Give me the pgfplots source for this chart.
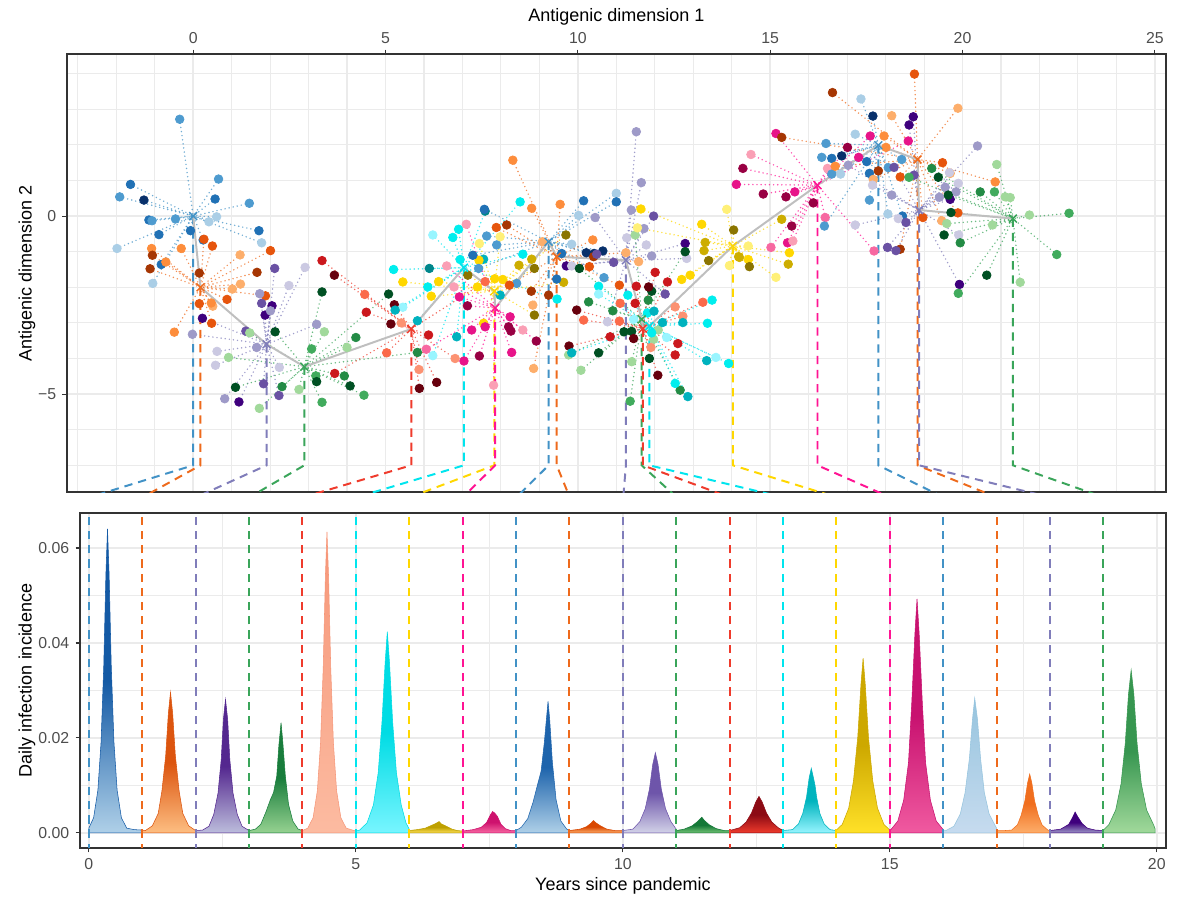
\documentclass[border=0pt]{standalone}
\usepackage{pgfplots}
\pgfplotsset{compat=1.18}
\usepackage{pgfplotstable}
\usepackage{fontspec}
\setmainfont{Liberation Sans}

\definecolor{gridc}{HTML}{EBEBEB}
\definecolor{framec}{HTML}{333333}
\definecolor{tickc}{HTML}{4D4D4D}
% one line colour per palette (cycle of 8)
\definecolor{Lb}{HTML}{4292C6}
\definecolor{Lo}{HTML}{EE6A1C}
\definecolor{Lp}{HTML}{807DBA}
\definecolor{Lg}{HTML}{3AA55A}
\definecolor{Lr}{HTML}{EF3B2C}
\definecolor{Lc}{HTML}{00E5EE}
\definecolor{Ly}{HTML}{FFD700}
\definecolor{Lk}{HTML}{FF1493}
% point colours: 8 palettes x 4 shades, light to dark
\definecolor{c0}{RGB}{170,206,230}\definecolor{c1}{RGB}{78,155,207}\definecolor{c2}{RGB}{33,113,181}\definecolor{c3}{RGB}{8,48,107}
\definecolor{c4}{RGB}{253,174,107}\definecolor{c5}{RGB}{253,141,60}\definecolor{c6}{RGB}{230,85,13}\definecolor{c7}{RGB}{166,54,3}
\definecolor{c8}{RGB}{203,201,226}\definecolor{c9}{RGB}{158,154,200}\definecolor{c10}{RGB}{106,81,163}\definecolor{c11}{RGB}{63,0,125}
\definecolor{c12}{RGB}{161,217,155}\definecolor{c13}{RGB}{65,171,93}\definecolor{c14}{RGB}{35,139,69}\definecolor{c15}{RGB}{0,80,35}
\definecolor{c16}{RGB}{252,146,114}\definecolor{c17}{RGB}{251,106,74}\definecolor{c18}{RGB}{203,24,29}\definecolor{c19}{RGB}{103,0,13}
\definecolor{c20}{RGB}{152,245,255}\definecolor{c21}{RGB}{0,238,238}\definecolor{c22}{RGB}{0,178,190}\definecolor{c23}{RGB}{0,134,139}
\definecolor{c24}{RGB}{255,240,120}\definecolor{c25}{RGB}{255,215,0}\definecolor{c26}{RGB}{205,173,0}\definecolor{c27}{RGB}{139,117,0}
\definecolor{c28}{RGB}{250,159,181}\definecolor{c29}{RGB}{247,104,161}\definecolor{c30}{RGB}{231,20,137}\definecolor{c31}{RGB}{152,0,67}

\pgfplotsset{
  ggbw/.style={
    scale only axis,
    axis line style={framec, line width=0.8pt},
    tick style={framec, line width=0.6pt},
    major tick length=2.5pt, minor tick length=0pt,
    tick align=outside,
    grid=both,
    major grid style={gridc, line width=1pt},
    minor grid style={gridc, line width=0.6pt},
    tick label style={font=\fontsize{8.8}{10}\selectfont, text=tickc},
    label style={font=\fontsize{10.8}{13}\selectfont},
    scaled ticks=false,
  },
  dotclasses/.style={scatter/classes={
    0={draw=c0,fill=c0},1={draw=c1,fill=c1},2={draw=c2,fill=c2},3={draw=c3,fill=c3},
    4={draw=c4,fill=c4},5={draw=c5,fill=c5},6={draw=c6,fill=c6},7={draw=c7,fill=c7},
    8={draw=c8,fill=c8},9={draw=c9,fill=c9},10={draw=c10,fill=c10},11={draw=c11,fill=c11},
    12={draw=c12,fill=c12},13={draw=c13,fill=c13},14={draw=c14,fill=c14},15={draw=c15,fill=c15},
    16={draw=c16,fill=c16},17={draw=c17,fill=c17},18={draw=c18,fill=c18},19={draw=c19,fill=c19},
    20={draw=c20,fill=c20},21={draw=c21,fill=c21},22={draw=c22,fill=c22},23={draw=c23,fill=c23},
    24={draw=c24,fill=c24},25={draw=c25,fill=c25},26={draw=c26,fill=c26},27={draw=c27,fill=c27},
    28={draw=c28,fill=c28},29={draw=c29,fill=c29},30={draw=c30,fill=c30},31={draw=c31,fill=c31}}},
}

% strains per antigenic cluster: x, y, colour index
\pgfplotstableread{
x y m
-0.35 2.72 1
-1.63 0.89 2
-1.91 0.54 1
-1.28 0.45 3
0.66 1.04 1
0.57 0.48 2
1.46 0.36 1
-1.15 -0.11 2
-1.07 -0.13 1
-0.46 -0.08 1
0.41 -0.16 0
0.61 -0.02 0
-0.07 -0.41 2
-0.89 -0.52 2
1.71 -0.41 2
1.78 -0.75 0
-1.98 -0.91 0
-0.83 -1.36 2
-1.05 -1.89 0
0.26 -0.67 2
}\tA
\pgfplotstableread{
x y m
0.28 -0.65 6
0.50 -0.84 6
2.01 -0.97 6
-1.08 -0.91 5
-1.06 -1.10 7
-1.12 -1.48 7
-0.71 -1.29 5
-0.31 -0.91 5
1.22 -1.09 4
1.66 -1.58 7
0.16 -1.60 7
1.23 -1.91 4
1.02 -2.05 4
0.88 -2.34 6
0.51 -2.53 4
0.47 -2.44 5
0.16 -2.46 6
0.48 -3.01 6
-0.49 -3.26 5
1.88 -2.24 6
}\tB
\pgfplotstableread{
x y m
2.12 -1.47 10
2.91 -1.44 8
2.49 -1.95 8
1.73 -2.18 9
1.78 -2.45 10
2.05 -2.52 11
1.87 -2.78 11
2.01 -2.66 9
0.24 -2.87 11
-0.02 -3.32 9
1.37 -3.23 10
1.65 -3.69 9
3.21 -3.04 9
0.62 -3.80 8
0.58 -4.19 8
2.24 -4.25 8
1.83 -4.71 10
2.23 -5.04 10
0.82 -5.13 9
1.19 -5.22 11
}\tC
\pgfplotstableread{
x y m
3.35 -2.13 15
2.13 -3.25 15
1.47 -3.28 12
3.41 -3.25 12
3.08 -3.73 13
4.23 -3.41 14
4.00 -3.69 12
0.92 -3.97 12
3.19 -4.49 13
3.21 -4.65 15
3.93 -4.49 14
4.08 -4.77 15
2.31 -4.79 14
2.75 -4.87 12
3.35 -5.23 13
4.44 -5.03 13
1.10 -4.81 15
1.72 -5.40 12
5.08 -2.19 15
5.83 -3.83 14
}\tD
\pgfplotstableread{
x y m
3.35 -1.25 18
3.67 -1.66 19
4.46 -2.20 17
4.50 -2.70 18
3.68 -4.42 18
5.23 -2.49 19
5.14 -3.03 19
5.41 -3.00 16
6.12 -3.34 18
5.03 -3.84 17
5.87 -4.31 16
6.33 -4.67 19
5.88 -4.84 19
6.81 -4.00 16
7.59 -1.84 17
}\tE
\pgfplotstableread{
x y m
5.21 -1.50 21
6.14 -1.47 23
6.10 -1.99 21
5.45 -2.56 20
5.25 -2.64 22
5.83 -2.94 22
6.85 -3.39 22
6.23 -3.92 20
6.23 -0.53 20
6.75 -0.60 21
6.90 -0.37 21
8.50 0.40 21
8.57 -1.07 21
7.98 -2.22 22
7.59 0.14 23
6.94 -1.22 21
7.55 -1.21 22
9.46 -2.33 21
}\tF
\pgfplotstableread{
x y m
5.45 -1.85 25
6.19 -2.25 25
6.38 -1.84 25
7.14 -1.66 27
7.39 -1.99 25
7.44 -0.77 24
7.98 -0.58 24
7.84 -1.76 25
8.05 -1.78 25
8.47 -1.38 26
8.80 -1.21 26
8.87 -1.47 27
8.87 -2.78 27
7.43 -1.24 25
7.55 -3.01 25
9.63 -1.86 26
9.69 -0.53 27
}\tG
\pgfplotstableread{
x y m
6.59 -1.40 28
6.78 -1.99 28
6.92 -2.27 30
7.13 -2.52 31
7.10 -0.23 28
7.24 -3.20 30
7.59 -3.11 30
7.04 -4.07 30
7.81 -4.75 28
7.44 -3.93 31
8.24 -2.83 30
8.20 -3.11 31
8.26 -3.23 31
8.28 -3.83 30
8.57 -3.20 28
8.92 -3.51 31
6.06 -3.74 29
}\tH
\pgfplotstableread{
x y m
7.57 0.19 2
7.63 -0.56 1
7.89 -0.81 1
7.27 -1.10 2
7.42 -1.47 1
8.41 -1.89 1
10.15 0.43 2
11.00 0.64 0
11.00 0.40 2
10.02 0.02 0
9.84 -0.79 0
10.22 -1.03 3
10.42 -1.05 3
10.65 -0.98 3
9.58 -1.05 2
10.68 -1.73 1
9.45 -1.77 2
}\tI
\pgfplotstableread{
x y m
9.54 0.33 5
8.31 1.57 5
8.80 0.22 5
7.88 -0.32 6
8.15 -0.25 7
8.22 -1.94 6
9.08 -0.72 4
9.24 -2.22 7
8.79 -2.11 7
8.83 -2.50 4
8.85 -4.28 4
10.39 -0.67 5
10.30 -1.42 6
10.41 -1.14 7
11.08 -1.94 6
11.25 -1.03 4
11.58 -1.28 4
}\tJ
\pgfplotstableread{
x y m
11.52 2.37 9
11.65 0.94 9
11.39 0.17 9
11.97 0.00 10
10.45 -0.04 9
11.72 -0.35 9
11.27 -0.61 8
11.78 -0.81 8
12.79 -0.77 11
12.83 -1.19 8
11.92 -1.12 9
10.93 -1.30 10
10.49 -1.07 10
9.70 -1.40 11
9.84 -1.40 8
12.27 -2.19 10
10.77 -2.97 8
}\tK
\pgfplotstableread{
x y m
11.49 -0.53 12
12.79 -1.00 15
10.04 -1.47 15
10.28 -2.41 14
10.91 -2.66 14
11.83 -2.36 14
11.92 -2.11 15
11.20 -3.25 15
11.40 -3.24 15
11.97 -3.46 12
10.54 -3.84 15
9.76 -3.90 12
10.08 -4.33 12
11.40 -4.09 12
11.36 -5.20 13
11.86 -4.00 15
12.66 -4.89 14
12.09 -3.20 12
}\tL
\pgfplotstableread{
x y m
12.01 -1.58 18
12.33 -1.85 18
11.84 -1.99 19
11.52 -1.97 18
11.49 -2.45 18
11.10 -2.45 17
9.97 -2.64 19
10.15 -2.92 17
11.08 -2.95 17
10.84 -3.39 18
11.45 -3.44 19
9.77 -3.65 19
12.53 -2.55 16
12.73 -2.81 16
12.60 -3.58 18
12.53 -3.90 18
12.08 -4.47 19
11.90 -3.69 16
13.25 -2.42 17
}\tM
\pgfplotstableread{
x y m
10.54 -1.97 21
10.54 -2.19 20
11.30 -2.22 21
11.81 -2.72 21
11.98 -2.67 22
11.45 -2.90 20
12.20 -2.99 22
11.92 -3.28 21
12.73 -2.99 22
13.49 -2.36 21
13.37 -3.01 21
12.31 -3.41 20
13.35 -4.06 22
13.59 -3.97 20
13.92 -4.14 21
12.53 -4.70 21
12.86 -5.07 22
9.84 -3.84 22
}\tN
\pgfplotstableread{
x y m
13.22 -0.23 25
13.87 0.19 24
14.05 -0.39 27
13.31 -0.74 26
13.28 -0.97 26
13.40 -1.25 27
13.94 -1.39 24
12.92 -1.66 25
12.70 -1.78 25
14.18 -1.14 26
11.64 0.20 25
11.55 -0.33 24
15.30 -0.09 26
15.50 -1.03 25
15.47 -1.35 26
14.43 -0.84 24
14.43 -1.22 25
14.20 -1.16 26
14.46 -1.42 27
15.15 -1.72 24
}\tO
\pgfplotstableread{
x y m
15.15 2.32 30
14.50 1.73 28
14.29 1.34 31
14.12 0.89 30
14.82 0.62 31
15.41 0.54 31
15.64 0.68 30
16.12 0.37 31
16.43 -0.04 29
15.56 -0.28 31
15.45 -0.75 30
15.59 -0.70 28
15.02 -0.88 29
16.49 1.34 28
17.70 -0.98 29
17.30 1.65 30
17.60 2.25 30
18.59 2.11 30
17.01 1.93 31
}\tP
\pgfplotstableread{
x y m
17.36 3.29 0
17.67 2.81 3
17.21 2.30 0
16.45 2.04 1
16.34 1.65 1
16.60 1.62 2
16.86 1.69 3
16.60 1.18 1
16.83 1.18 0
17.51 1.53 2
17.58 1.20 2
18.42 1.59 1
18.07 1.36 1
17.58 0.45 1
18.06 0.06 0
16.41 -0.28 1
18.44 0.00 2
}\tQ
\pgfplotstableread{
x y m
18.75 3.99 6
19.88 3.03 4
18.16 2.82 4
17.96 2.25 5
19.48 1.50 6
18.38 1.10 6
20.85 0.96 5
19.88 0.09 6
18.97 -0.04 6
19.46 -0.13 4
19.68 1.20 4
16.62 3.47 7
18.01 1.93 5
16.69 1.40 5
17.81 1.27 7
17.68 1.03 4
15.30 2.21 7
18.38 -0.93 7
}\tR
\pgfplotstableread{
x y m
18.72 2.79 11
18.61 2.56 11
20.39 1.97 9
18.22 1.37 10
18.74 1.15 10
19.66 1.22 8
19.89 0.92 8
19.55 0.81 9
19.40 0.53 9
19.83 0.68 9
19.68 0.47 11
18.16 0.59 9
18.33 -0.07 8
18.53 -0.18 10
19.90 -0.53 8
18.05 -0.88 10
18.27 -0.97 10
19.92 -1.92 11
17.21 -0.25 8
17.66 0.87 8
17.03 1.43 9
}\tS
\pgfplotstableread{
x y m
20.89 1.45 12
19.20 1.34 14
18.61 1.09 13
19.37 1.09 15
19.63 0.59 15
20.46 0.68 14
20.83 0.68 13
21.11 0.54 12
21.24 0.52 12
21.74 0.03 12
22.77 0.08 13
19.70 0.10 15
19.59 -0.21 12
20.78 -0.25 12
19.52 -0.53 15
19.94 -0.75 14
22.45 -1.08 13
20.63 -1.66 15
21.50 -1.86 12
19.89 -2.17 13
}\tT

% cluster centres in the order they appeared
\pgfplotstableread{
x y
0.00 0.00
0.19 -2.00
1.91 -3.60
2.89 -4.23
5.67 -3.17
7.04 -1.45
7.83 -2.11
7.85 -2.58
9.24 -0.72
9.45 -1.14
11.25 -1.24
11.66 -2.90
11.69 -3.16
11.86 -3.09
14.03 -0.84
16.23 0.87
17.81 1.99
18.83 1.59
18.87 0.17
21.31 -0.07
}\centres

\newcommand\spokes[4]{\addplot[forget plot, #4, draw opacity=0.75, line width=0.9pt, line cap=round,
  dash pattern=on 0pt off 2.3pt, quiver={u={#2-\thisrow{x}}, v={#3-\thisrow{y}}}] table {#1};}
\newcommand\drop[4]{\addplot[forget plot, #4, line width=1.1pt, dash pattern=on 4.6pt off 3.3pt]
  coordinates {(#1,#2) (#1,-7) (#3,-7.9)};}
\newcommand\pts[1]{\addplot[forget plot, scatter, only marks, mark=*, mark size=2.4pt,
  point meta=explicit symbolic, dotclasses] table[meta=m] {#1};}
\newcommand\ctr[3]{\addplot[forget plot, only marks, mark=x, mark size=3.1pt, line width=0.8pt, #3]
  coordinates {(#1,#2)};}
\newcommand\yr[2]{\addplot[forget plot, #2, line width=1.1pt, dash pattern=on 4.6pt off 3.3pt]
  coordinates {(#1,-0.01) (#1,0.08)};}
% one epidemic wave: dark upper half, lighter towards the base
\newcommand\wave[2]{\addplot[draw=#1, line width=0.3pt, top color=#1, bottom color=#2, middle color=#1]}
\newcommand\flatwave[2]{\addplot[draw=#1, line width=0.3pt, top color=#1, bottom color=#2]}

\definecolor{w0t}{RGB}{20,90,165}\definecolor{w0b}{RGB}{175,208,232}
\definecolor{w1t}{RGB}{220,85,15}\definecolor{w1b}{RGB}{253,190,130}
\definecolor{w2t}{RGB}{84,39,143}\definecolor{w2b}{RGB}{188,189,220}
\definecolor{w3t}{RGB}{25,125,60}\definecolor{w3b}{RGB}{150,210,145}
\definecolor{w4t}{RGB}{246,150,120}\definecolor{w4b}{RGB}{252,187,161}
\definecolor{w5t}{RGB}{0,220,228}\definecolor{w5b}{RGB}{120,245,255}
\definecolor{w6t}{RGB}{190,160,0}\definecolor{w6b}{RGB}{255,225,90}
\definecolor{w7t}{RGB}{206,18,110}\definecolor{w7b}{RGB}{247,104,161}
\definecolor{w8t}{RGB}{30,100,172}\definecolor{w8b}{RGB}{175,208,232}
\definecolor{w9t}{RGB}{217,72,1}\definecolor{w9b}{RGB}{253,174,107}
\definecolor{w10t}{RGB}{110,85,170}\definecolor{w10b}{RGB}{210,210,232}
\definecolor{w11t}{RGB}{20,120,55}\definecolor{w11b}{RGB}{116,196,118}
\definecolor{w12t}{RGB}{140,10,20}\definecolor{w12b}{RGB}{239,59,44}
\definecolor{w13t}{RGB}{0,180,190}\definecolor{w13b}{RGB}{152,245,255}
\definecolor{w14t}{RGB}{205,168,0}\definecolor{w14b}{RGB}{255,225,40}
\definecolor{w15t}{RGB}{200,18,112}\definecolor{w15b}{RGB}{240,90,160}
\definecolor{w16t}{RGB}{150,196,222}\definecolor{w16b}{RGB}{198,219,239}
\definecolor{w17t}{RGB}{240,110,30}\definecolor{w17b}{RGB}{253,174,107}
\definecolor{w18t}{RGB}{63,0,125}\definecolor{w18b}{RGB}{158,154,200}
\definecolor{w19t}{RGB}{55,150,80}\definecolor{w19b}{RGB}{161,217,155}

\begin{document}
\begin{tikzpicture}
\useasboundingbox (0,0) rectangle (655.6pt,-498.9pt);

\begin{axis}[ggbw,
  at={(37.22pt,-273.35pt)}, anchor=south west,
  width=610.6pt, height=243.3pt,
  xmin=-3.28, xmax=25.29, ymin=-7.75, ymax=4.55,
  xtick={0,5,10,15,20,25}, xticklabels={0,5,10,15,20,25},
  ytick={-5,0}, yticklabels={−5,0},
  minor xtick={-3,-2,...,25}, minor ytick={-7,-6,...,4},
  xtick pos=right, xticklabel pos=right, ytick pos=left,
  xlabel={Antigenic dimension 1}, ylabel={Antigenic dimension 2},
  every axis x label/.style={at={(axis description cs:0.5,1)}, anchor=center, yshift=20.6pt},
  every axis y label/.style={at={(axis description cs:0,0.5)}, rotate=90, anchor=center, yshift=22.2pt},
]
\spokes{\tA}{0.00}{0.00}{Lb}
\spokes{\tB}{0.19}{-2.00}{Lo}
\spokes{\tC}{1.91}{-3.60}{Lp}
\spokes{\tD}{2.89}{-4.23}{Lg}
\spokes{\tE}{5.67}{-3.17}{Lr}
\spokes{\tF}{7.04}{-1.45}{Lc}
\spokes{\tG}{7.83}{-2.11}{Ly}
\spokes{\tH}{7.85}{-2.58}{Lk}
\spokes{\tI}{9.24}{-0.72}{Lb}
\spokes{\tJ}{9.45}{-1.14}{Lo}
\spokes{\tK}{11.25}{-1.24}{Lp}
\spokes{\tL}{11.66}{-2.90}{Lg}
\spokes{\tM}{11.69}{-3.16}{Lr}
\spokes{\tN}{11.86}{-3.09}{Lc}
\spokes{\tO}{14.03}{-0.84}{Ly}
\spokes{\tP}{16.23}{0.87}{Lk}
\spokes{\tQ}{17.81}{1.99}{Lb}
\spokes{\tR}{18.83}{1.59}{Lo}
\spokes{\tS}{18.87}{0.17}{Lp}
\spokes{\tT}{21.31}{-0.07}{Lg}

\drop{0.00}{0.00}{-2.70}{Lb}
\drop{0.19}{-2.00}{-1.32}{Lo}
\drop{1.91}{-3.60}{0.07}{Lp}
\drop{2.89}{-4.23}{1.46}{Lg}
\drop{5.67}{-3.17}{2.85}{Lr}
\drop{7.04}{-1.45}{4.24}{Lc}
\drop{7.83}{-2.11}{5.63}{Ly}
\drop{7.85}{-2.58}{7.01}{Lk}
\drop{9.24}{-0.72}{8.40}{Lb}
\drop{9.45}{-1.14}{9.79}{Lo}
\drop{11.25}{-1.24}{11.18}{Lp}
\drop{11.66}{-2.90}{12.57}{Lg}
\drop{11.69}{-3.16}{13.95}{Lr}
\drop{11.86}{-3.09}{15.34}{Lc}
\drop{14.03}{-0.84}{16.73}{Ly}
\drop{16.23}{0.87}{18.12}{Lk}
\drop{17.81}{1.99}{19.51}{Lb}
\drop{18.83}{1.59}{20.89}{Lo}
\drop{18.87}{0.17}{22.28}{Lp}
\drop{21.31}{-0.07}{23.67}{Lg}

\addplot[forget plot, gray!50, line width=1.1pt] table {\centres};

\pts{\tA}\pts{\tB}\pts{\tC}\pts{\tD}\pts{\tE}
\pts{\tF}\pts{\tG}\pts{\tH}\pts{\tI}\pts{\tJ}
\pts{\tK}\pts{\tL}\pts{\tM}\pts{\tN}\pts{\tO}
\pts{\tP}\pts{\tQ}\pts{\tR}\pts{\tS}\pts{\tT}

\ctr{0.00}{0.00}{Lb}\ctr{0.19}{-2.00}{Lo}\ctr{1.91}{-3.60}{Lp}\ctr{2.89}{-4.23}{Lg}
\ctr{5.67}{-3.17}{Lr}\ctr{7.04}{-1.45}{Lc}\ctr{7.83}{-2.11}{Ly}\ctr{7.85}{-2.58}{Lk}
\ctr{9.24}{-0.72}{Lb}\ctr{9.45}{-1.14}{Lo}\ctr{11.25}{-1.24}{Lp}\ctr{11.66}{-2.90}{Lg}
\ctr{11.69}{-3.16}{Lr}\ctr{11.86}{-3.09}{Lc}\ctr{14.03}{-0.84}{Ly}\ctr{16.23}{0.87}{Lk}
\ctr{17.81}{1.99}{Lb}\ctr{18.83}{1.59}{Lo}\ctr{18.87}{0.17}{Lp}\ctr{21.31}{-0.07}{Lg}
\end{axis}

\begin{axis}[ggbw,
  at={(44.45pt,-471.1pt)}, anchor=south west,
  width=603.3pt, height=186.1pt,
  xmin=-0.165, xmax=20.17, ymin=-0.00316, ymax=0.06737,
  xtick={0,5,10,15,20}, xticklabels={0,5,10,15,20},
  ytick={0,0.02,0.04,0.06}, yticklabels={0.00,0.02,0.04,0.06},
  minor xtick={2.5,7.5,12.5,17.5}, minor ytick={0.01,0.03,0.05},
  xtick pos=left, ytick pos=left,
  xlabel={Years since pandemic}, ylabel={Daily infection incidence},
  every axis x label/.style={at={(axis description cs:0.5,0)}, anchor=center, yshift=-21.1pt},
  every axis y label/.style={at={(axis description cs:0,0.5)}, rotate=90, anchor=center, yshift=29.4pt},
]
\wave{w0t}{w0b} coordinates {
(0.00,0.0010) (0.09,0.0032) (0.17,0.0090) (0.23,0.0192) (0.28,0.0352) (0.32,0.0544) (0.35,0.0640) (0.38,0.0544) (0.42,0.0352) (0.47,0.0192) (0.53,0.0090) (0.61,0.0032) (0.71,0.0010) (0.85,0.0007) (1.00,0.0006)} \closedcycle;
\wave{w1t}{w1b} coordinates {
(1.00,0.0006) (1.06,0.0005) (1.19,0.0015) (1.30,0.0041) (1.37,0.0089) (1.44,0.0163) (1.49,0.0252) (1.53,0.0296) (1.57,0.0252) (1.62,0.0163) (1.69,0.0089) (1.76,0.0041) (1.87,0.0015) (2.00,0.0005)} \closedcycle;
\wave{w2t}{w2b} coordinates {
(2.00,0.0005) (2.13,0.0006) (2.25,0.0014) (2.34,0.0039) (2.42,0.0084) (2.48,0.0155) (2.52,0.0239) (2.56,0.0281) (2.60,0.0239) (2.64,0.0155) (2.70,0.0084) (2.78,0.0039) (2.87,0.0014) (3.00,0.0005)} \closedcycle;
\wave{w3t}{w3b} coordinates {
(3.00,0.0005) (3.12,0.0008) (3.22,0.0018) (3.32,0.0045) (3.40,0.0070) (3.46,0.0085) (3.52,0.0120) (3.56,0.0185) (3.60,0.0232) (3.63,0.0195) (3.68,0.0120) (3.74,0.0060) (3.82,0.0025) (3.92,0.0008) (4.00,0.0005)} \closedcycle;
\flatwave{w4t}{w4b} coordinates {
(4.00,0.0005) (4.10,0.0010) (4.20,0.0032) (4.28,0.0089) (4.34,0.0190) (4.39,0.0349) (4.43,0.0539) (4.46,0.0634) (4.49,0.0539) (4.53,0.0349) (4.58,0.0190) (4.64,0.0089) (4.72,0.0032) (4.82,0.0010) (5.00,0.0004)} \closedcycle;
\wave{w5t}{w5b} coordinates {
(5.00,0.0004) (5.07,0.0006) (5.21,0.0021) (5.33,0.0059) (5.42,0.0127) (5.49,0.0233) (5.55,0.0360) (5.59,0.0424) (5.63,0.0360) (5.69,0.0233) (5.76,0.0127) (5.85,0.0059) (5.94,0.0021) (6.00,0.0008)} \closedcycle;
\wave{w6t}{w6b} coordinates {
(6.00,0.0005) (6.15,0.0007) (6.30,0.0010) (6.42,0.0016) (6.50,0.0020) (6.56,0.0024) (6.60,0.0019) (6.68,0.0015) (6.80,0.0008) (6.90,0.0005) (7.00,0.0004)} \closedcycle;
\wave{w7t}{w7b} coordinates {
(7.00,0.0004) (7.20,0.0007) (7.35,0.0012) (7.45,0.0022) (7.52,0.0038) (7.56,0.0045) (7.60,0.0042) (7.65,0.0035) (7.72,0.0018) (7.80,0.0009) (7.90,0.0005) (8.00,0.0005)} \closedcycle;
\wave{w8t}{w8b} coordinates {
(8.00,0.0005) (8.10,0.0012) (8.22,0.0030) (8.32,0.0065) (8.40,0.0100) (8.47,0.0130) (8.53,0.0190) (8.57,0.0240) (8.60,0.0277) (8.63,0.0240) (8.68,0.0150) (8.75,0.0070) (8.84,0.0025) (8.95,0.0008) (9.00,0.0005)} \closedcycle;
\wave{w9t}{w9b} coordinates {
(9.00,0.0005) (9.20,0.0008) (9.32,0.0013) (9.40,0.0020) (9.45,0.0026) (9.50,0.0021) (9.58,0.0015) (9.70,0.0008) (9.85,0.0005) (10.00,0.0005)} \closedcycle;
\wave{w10t}{w10b} coordinates {
(10.00,0.0005) (10.19,0.0008) (10.32,0.0024) (10.42,0.0051) (10.50,0.0093) (10.56,0.0144) (10.61,0.0169) (10.66,0.0144) (10.72,0.0093) (10.80,0.0051) (10.90,0.0024) (11.00,0.0008)} \closedcycle;
\wave{w11t}{w11b} coordinates {
(11.00,0.0005) (11.15,0.0008) (11.30,0.0015) (11.40,0.0024) (11.48,0.0033) (11.53,0.0026) (11.62,0.0017) (11.75,0.0009) (11.90,0.0005) (12.00,0.0005)} \closedcycle;
\wave{w12t}{w12b} coordinates {
(12.00,0.0005) (12.19,0.0011) (12.31,0.0023) (12.41,0.0042) (12.49,0.0065) (12.55,0.0077) (12.61,0.0065) (12.69,0.0042) (12.79,0.0023) (12.91,0.0011) (13.00,0.0005)} \closedcycle;
\wave{w13t}{w13b} coordinates {
(13.00,0.0005) (13.18,0.0007) (13.29,0.0019) (13.37,0.0041) (13.44,0.0075) (13.49,0.0116) (13.53,0.0136) (13.57,0.0116) (13.60,0.0100) (13.63,0.0075) (13.69,0.0041) (13.77,0.0019) (13.88,0.0007) (14.00,0.0005)} \closedcycle;
\wave{w14t}{w14b} coordinates {
(14.00,0.0006) (14.11,0.0018) (14.23,0.0052) (14.32,0.0110) (14.40,0.0202) (14.46,0.0313) (14.50,0.0368) (14.54,0.0313) (14.60,0.0202) (14.68,0.0110) (14.77,0.0052) (14.89,0.0018) (15.00,0.0006)} \closedcycle;
\wave{w15t}{w15b} coordinates {
(15.00,0.0005) (15.02,0.0007) (15.15,0.0025) (15.26,0.0069) (15.35,0.0148) (15.41,0.0271) (15.47,0.0419) (15.51,0.0493) (15.55,0.0419) (15.61,0.0271) (15.67,0.0148) (15.76,0.0069) (15.87,0.0025) (16.00,0.0007)} \closedcycle;
\flatwave{w16t}{w16b} coordinates {
(16.00,0.0005) (16.05,0.0005) (16.20,0.0014) (16.32,0.0040) (16.41,0.0085) (16.49,0.0156) (16.55,0.0241) (16.59,0.0284) (16.64,0.0241) (16.70,0.0156) (16.77,0.0085) (16.86,0.0040) (16.98,0.0014) (17.00,0.0010)} \closedcycle;
\wave{w17t}{w17b} coordinates {
(17.00,0.0005) (17.15,0.0005) (17.28,0.0006) (17.39,0.0017) (17.46,0.0037) (17.53,0.0068) (17.58,0.0105) (17.62,0.0124) (17.66,0.0105) (17.71,0.0068) (17.78,0.0037) (17.85,0.0017) (17.96,0.0006) (18.00,0.0005)} \closedcycle;
\wave{w18t}{w18b} coordinates {
(18.00,0.0005) (18.20,0.0008) (18.35,0.0018) (18.42,0.0032) (18.47,0.0044) (18.52,0.0034) (18.60,0.0020) (18.70,0.0010) (18.85,0.0006) (19.00,0.0005)} \closedcycle;
\wave{w19t}{w19b} coordinates {
(19.00,0.0006) (19.10,0.0017) (19.23,0.0048) (19.33,0.0103) (19.41,0.0189) (19.47,0.0292) (19.52,0.0343) (19.57,0.0292) (19.63,0.0189) (19.71,0.0103) (19.81,0.0048) (19.94,0.0017) (19.97,0.0008)} \closedcycle;

\yr{0}{Lb}\yr{1}{Lo}\yr{2}{Lp}\yr{3}{Lg}\yr{4}{Lr}\yr{5}{Lc}\yr{6}{Ly}\yr{7}{Lk}
\yr{8}{Lb}\yr{9}{Lo}\yr{10}{Lp}\yr{11}{Lg}\yr{12}{Lr}\yr{13}{Lc}\yr{14}{Ly}\yr{15}{Lk}
\yr{16}{Lb}\yr{17}{Lo}\yr{18}{Lp}\yr{19}{Lg}
\end{axis}
\end{tikzpicture}
\end{document}
